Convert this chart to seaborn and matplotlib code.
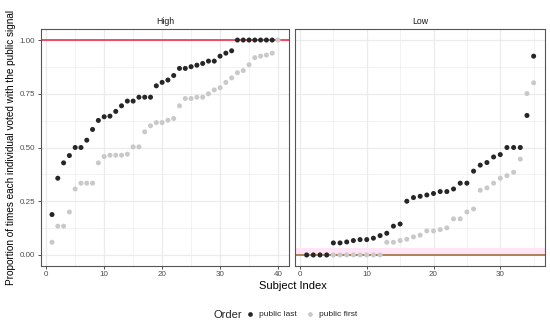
import numpy as np
import pandas as pd
import matplotlib
matplotlib.use("Agg")
import matplotlib.pyplot as plt
from matplotlib.lines import Line2D
import seaborn as sns

sns.set_theme(style="white")
plt.rcParams['font.family'] = ['Liberation Sans', 'DejaVu Sans']

# ---- data ----
high_last = [0.188, 0.357, 0.4285, 0.4625, 0.50, 0.50, 0.534, 0.584, 0.626, 0.643,
             0.646, 0.668, 0.694, 0.716, 0.716, 0.734, 0.734, 0.734, 0.787, 0.803,
             0.814, 0.835, 0.868, 0.868, 0.876, 0.883, 0.891, 0.902, 0.902, 0.925,
             0.939, 0.950, 1.0, 1.0, 1.0, 1.0, 1.0, 1.0, 1.0]
high_first = [0.059, 0.134, 0.134, 0.200, 0.307, 0.334, 0.334, 0.334, 0.4285, 0.458,
              0.464, 0.464, 0.464, 0.469, 0.503, 0.503, 0.573, 0.601, 0.616, 0.616,
              0.627, 0.635, 0.694, 0.728, 0.728, 0.734, 0.734, 0.75, 0.768, 0.778,
              0.803, 0.824, 0.848, 0.858, 0.885, 0.918, 0.925, 0.930, 0.939, 1.0]
low_last = [0.0, 0.0, 0.0, 0.0, 0.056, 0.056, 0.0605, 0.067, 0.0715, 0.0715,
            0.078, 0.090, 0.101, 0.134, 0.144, 0.250, 0.267, 0.273, 0.279, 0.286,
            0.295, 0.295, 0.307, 0.334, 0.334, 0.390, 0.418, 0.430, 0.456, 0.467,
            0.50, 0.50, 0.50, 0.649, 0.925]
low_first = [0.0, 0.0, 0.0, 0.0, 0.0, 0.0, 0.0, 0.0, 0.0, 0.0,
             0.0, 0.0, 0.059, 0.059, 0.067, 0.073, 0.084, 0.092, 0.112, 0.112,
             0.118, 0.126, 0.168, 0.168, 0.200, 0.214, 0.301, 0.312, 0.334, 0.357,
             0.369, 0.385, 0.446, 0.751, 0.801]
panels = ["High", "Low"]
orders = ["public last", "public first"]
x_ticks = [0, 10, 20, 30, 40]
y_ticks = [0.00, 0.25, 0.50, 0.75, 1.00]
y_tick_labels = ["0.00", "0.25", "0.50", "0.75", "1.00"]
ref_line = {"High": 1.0, "Low": 0.0}
band_low = [0.0, 0.031]

rows = []
for panel, first, last in [("High", high_first, high_last), ("Low", low_first, low_last)]:
    for i, v in enumerate(first):
        rows.append((panel, "public first", i + 1, v))
    for i, v in enumerate(last):
        rows.append((panel, "public last", i + 1, v))
df = pd.DataFrame(rows, columns=["Treatment", "Order", "Subject", "Proportion"])

palette = {"public last": "#262626", "public first": "#C9C9C9"}

fig = plt.figure(figsize=(5.5, 3.25), dpi=100)
W, H = 550, 325
def ax_rect(l, r, t, b):
    return [l / W, 1 - b / H, (r - l) / W, (b - t) / H]

axL = fig.add_axes(ax_rect(40.7, 289.3, 29.3, 265.7))
axR = fig.add_axes(ax_rect(295.3, 545.0, 29.3, 265.7))
xlims = {"High": (-0.95, 41.95), "Low": (-0.7, 36.7)}

for ax, panel in [(axL, "High"), (axR, "Low")]:
    sub = df[df["Treatment"] == panel]
    # grid
    for xv in np.arange(0, 45, 5):
        ax.axvline(xv, color="#EBEBEB", lw=0.9 if xv % 10 == 0 else 0.45, zorder=0)
    for yv in np.arange(0, 1.01, 0.125):
        ax.axhline(yv, color="#EBEBEB", lw=0.9 if abs((yv / 0.25) - round(yv / 0.25)) < 1e-6 else 0.45, zorder=0)
    if panel == "Low":
        ax.axhspan(band_low[0], band_low[1], color="#FFE4F5", zorder=0.5, lw=0)
        ax.axhline(ref_line[panel], color="#A87A4A", lw=1.3, zorder=1)
    else:
        ax.axhline(ref_line[panel], color="#F21D3C", lw=1.1, zorder=1)
    sns.scatterplot(data=sub, x="Subject", y="Proportion", hue="Order",
                    hue_order=orders, palette=palette, s=13, linewidth=0,
                    legend=False, ax=ax, zorder=2)
    ax.set_xticks(x_ticks)
    ax.set_xticklabels([str(t) for t in x_ticks])
    ax.set_yticks(y_ticks)
    ax.set_xlim(*xlims[panel])
    ax.set_ylim(-0.05, 1.05)
    ax.set_xlabel("")
    ax.set_ylabel("")
    ax.tick_params(axis="both", which="both", length=2.5, width=0.6, color="#333333",
                   labelsize=5.8, labelcolor="#4D4D4D", pad=1.5, bottom=True, left=True)
    for sp in ax.spines.values():
        sp.set_color("#555555")
        sp.set_linewidth(0.8)
    ax.set_title(panel, fontsize=6.3, color="#1A1A1A", pad=3.5)
    ax.grid(False)

axL.set_yticklabels(y_tick_labels)
axR.tick_params(axis="y", left=False, labelleft=False)

fig.text(292.9 / W, 1 - 286 / H, "Subject Index", ha="center", va="center", fontsize=8, color="black")
fig.text(11 / W, 1 - 147.5 / H, "Proportion of times each individual voted with the public signal",
         ha="center", va="center", rotation=90, fontsize=7.2, color="black")

fig.text(213 / W, 1 - 314.5 / H, "Order", ha="left", va="center", fontsize=8)
handles = [Line2D([], [], marker="o", ls="", color=palette[o], markersize=3.4, markeredgewidth=0)
           for o in orders]
fig.legend(handles, orders, loc="center left", bbox_to_anchor=(245 / W, 1 - 314.5 / H),
           ncol=2, frameon=False, fontsize=6, handlelength=1.2, handletextpad=0.5,
           columnspacing=1.0, borderpad=0, borderaxespad=0)

fig.savefig("out.png", dpi=100)
